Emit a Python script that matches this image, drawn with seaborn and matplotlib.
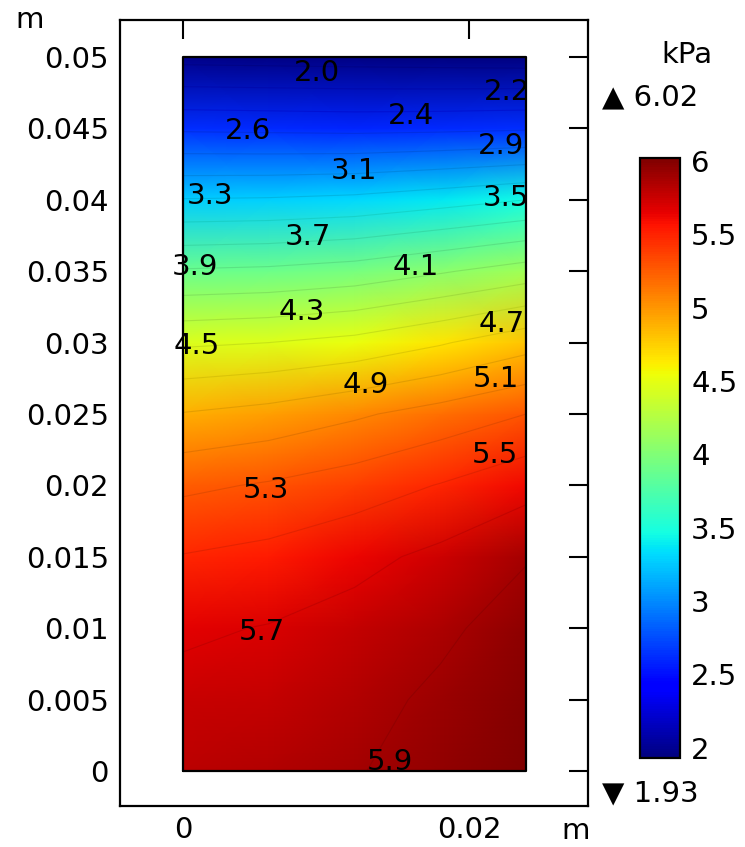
import numpy as np
import matplotlib
matplotlib.use("Agg")
import matplotlib.pyplot as plt
import seaborn as sns

# ---------------- data ----------------
x_pos = [0.0, 0.006, 0.012, 0.018, 0.024]                      # m
y_pos = [0.050, 0.045, 0.040, 0.035, 0.030, 0.025,
         0.020, 0.015, 0.010, 0.005, 0.000]                    # m (top -> bottom)
pressure = [                                                   # kPa
    [1.97, 1.96, 1.95, 1.94, 1.93],
    [2.62, 2.61, 2.60, 2.61, 2.63],
    [3.27, 3.28, 3.31, 3.38, 3.46],
    [3.88, 3.90, 3.95, 4.05, 4.16],
    [4.44, 4.47, 4.53, 4.65, 4.80],
    [4.89, 4.95, 5.05, 5.16, 5.28],
    [5.24, 5.30, 5.38, 5.49, 5.62],
    [5.49, 5.54, 5.63, 5.74, 5.88],
    [5.66, 5.70, 5.77, 5.86, 5.96],
    [5.75, 5.78, 5.84, 5.92, 6.00],
    [5.80, 5.83, 5.88, 5.95, 6.02],
]
p_min, p_max = 1.93, 6.02
contour_levels = [2.04, 2.24, 2.45, 2.65, 2.85, 3.05, 3.26, 3.46, 3.66, 3.86,
                  4.07, 4.27, 4.47, 4.67, 4.88, 5.08, 5.28, 5.48, 5.69, 5.89]
label_texts = ["2.0", "2.2", "2.4", "2.6", "2.9", "3.1", "3.3", "3.5", "3.7", "3.9",
               "4.1", "4.3", "4.5", "4.7", "4.9", "5.1", "5.3", "5.5", "5.7", "5.9"]
label_xy = [(0.00935, 0.04891), (0.02264, 0.04755), (0.01592, 0.04589),
            (0.00455, 0.04480), (0.02222, 0.04377), (0.01196, 0.04202),
            (0.00192, 0.04027), (0.02257, 0.04013), (0.00871, 0.03736),
            (0.00084, 0.03529), (0.01627, 0.03529), (0.00832, 0.03214),
            (0.00096, 0.02976), (0.02231, 0.03130), (0.01278, 0.02703),
            (0.02187, 0.02745), (0.00577, 0.01968), (0.02182, 0.02213),
            (0.00550, 0.00975), (0.01448, 0.00063)]
x_ticks = [0.0, 0.02]
x_ticklabels = ["0", "0.02"]
y_ticks = [0.0, 0.005, 0.01, 0.015, 0.02, 0.025, 0.03, 0.035, 0.04, 0.045, 0.05]
y_ticklabels = ["0", "0.005", "0.01", "0.015", "0.02", "0.025",
                "0.03", "0.035", "0.04", "0.045", "0.05"]
cbar_ticks = [2, 2.5, 3, 3.5, 4, 4.5, 5, 5.5, 6]
cbar_ticklabels = ["2", "2.5", "3", "3.5", "4", "4.5", "5", "5.5", "6"]

# ---------------- style ----------------
sns.set_style("white")
plt.rcParams["font.family"] = ["DejaVu Sans"]
for k in ["text.color", "axes.labelcolor", "xtick.color", "ytick.color",
          "axes.edgecolor"]:
    plt.rcParams[k] = "black"
FS = 21

cmap = matplotlib.colormaps["jet"]
norm = matplotlib.colors.Normalize(vmin=p_min, vmax=p_max)

X, Y = np.meshgrid(np.array(x_pos), np.array(y_pos[::-1]))
Z = np.flipud(np.array(pressure))

W, H = 745, 847
fig = plt.figure(figsize=(W / 100, H / 100), dpi=100)
ax = fig.add_axes([120 / W, 41 / H, 468 / W, 786 / H])

mesh = ax.pcolormesh(X, Y, Z, shading="gouraud", cmap=cmap, norm=norm)
line_cols = [tuple(np.array(cmap(norm(l))[:3]) * 0.75) for l in contour_levels]
ax.contour(X, Y, Z, levels=contour_levels, colors=line_cols,
           linewidths=0.8, alpha=0.4)

for txt, (lx, ly) in zip(label_texts, label_xy):
    ax.text(lx, ly, txt, fontsize=FS, ha="center", va="center", color="black",
            zorder=5)

x0, x1 = min(x_pos), max(x_pos)
y0, y1 = min(y_pos), max(y_pos)
ax.plot([x0, x1, x1, x0, x0], [y0, y0, y1, y1, y0], color="black", lw=1.6,
        zorder=4)

ax.set_xlim(-0.004406, 0.02832)
ax.set_ylim(-0.002451, 0.05259)
ax.set_xticks(x_ticks)
ax.set_xticklabels(x_ticklabels)
ax.set_yticks(y_ticks)
ax.set_yticklabels(y_ticklabels)
ax.tick_params(direction="in", length=14, width=1.5, top=True, right=True,
               labelsize=FS, colors="black")
ax.tick_params(axis="y", pad=8)
ax.tick_params(axis="x", pad=7)
for s in ax.spines.values():
    s.set_visible(True)
    s.set_color("black")
    s.set_linewidth(1.6)
ax.grid(False)

fig.text(30 / W, 1 - 20 / H, "m", fontsize=FS, ha="center", va="center")
fig.text(576 / W, 1 - 831 / H, "m", fontsize=FS, ha="center", va="center")

# colorbar
cax = fig.add_axes([640 / W, 1 - 758 / H, 40 / W, 600 / H])
cb = fig.colorbar(mesh, cax=cax, ticks=cbar_ticks)
cb.ax.set_yticklabels(cbar_ticklabels)
cb.ax.tick_params(direction="in", left=True, right=True, length=7, width=1.5,
                  labelsize=FS, pad=8, colors="black")
cb.outline.set_linewidth(1.6)
cb.outline.set_edgecolor("black")

fig.text(687 / W, 1 - 55 / H, "kPa", fontsize=FS, ha="center", va="center")
fig.text(602 / W, 1 - 97 / H, "\u25B2 6.02", fontsize=FS, ha="left", va="center")
fig.text(602 / W, 1 - 793 / H, "\u25BC 1.93", fontsize=FS, ha="left", va="center")

fig.savefig("out.png", dpi=100, facecolor="white")
